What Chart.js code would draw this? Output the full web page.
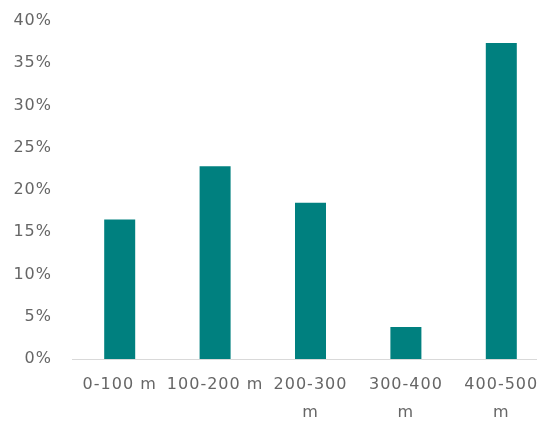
<!DOCTYPE html>
<html>
<head>
<meta charset="utf-8">
<script src="https://cdn.jsdelivr.net/npm/chart.js@4"></script>
<style>
  html, body { margin: 0; padding: 0; background: #fff; overflow: hidden; }
  #wrap { width: 537px; height: 422px; overflow: hidden; position: relative; }
  #myChart { position: absolute; left: 0; top: 0; }
</style>
</head>
<body>
<div id="wrap"><canvas id="myChart" width="549" height="422"></canvas></div>
<script>
var xValues = ["0-100 m", "100-200 m", ["200-300", "m"], ["300-400", "m"], ["400-500", "m"]];
var yValues = [16.5, 22.8, 18.5, 3.8, 37.4];
var yTicks = [0, 5, 10, 15, 20, 25, 30, 35, 40];
var barColor = "#00807f";

// wide, airy label look of the original
var spacing = {
  id: "spacing",
  beforeDraw: function (chart) { chart.ctx.letterSpacing = "1px"; }
};

new Chart("myChart", {
  type: "bar",
  data: {
    labels: xValues,
    datasets: [{
      backgroundColor: barColor,
      data: yValues,
      categoryPercentage: 1,
      barPercentage: 0.325
    }]
  },
  plugins: [spacing],
  options: {
    responsive: false,
    animation: false,
    layout: {padding: 0},
    plugins: {legend: {display: false}, tooltip: {enabled: false}},
    scales: {
      x: {
        grid: {display: false, drawTicks: false},
        border: {display: true, color: "#d9d9d9", width: 1},
        ticks: {
          color: "#666666",
          padding: 12,
          maxRotation: 0,
          autoSkip: false,
          font: {family: "DejaVu Sans", size: 16, lineHeight: 1.75}
        },
        afterFit: function (s) { s.height = 63; }
      },
      y: {
        min: 0,
        max: 40,
        grid: {display: false, drawTicks: false},
        border: {display: false},
        afterBuildTicks: function (s) {
          s.ticks = yTicks.map(function (v) { return {value: v}; });
        },
        ticks: {
          color: "#666666",
          padding: 20,
          font: {family: "DejaVu Sans", size: 16},
          callback: function (v) { return v + "%"; }
        },
        afterFit: function (s) {
          s.width = 72;
          s.paddingTop = 21;
          s.paddingBottom = 0;
        }
      }
    }
  }
});
</script>
</body>
</html>
